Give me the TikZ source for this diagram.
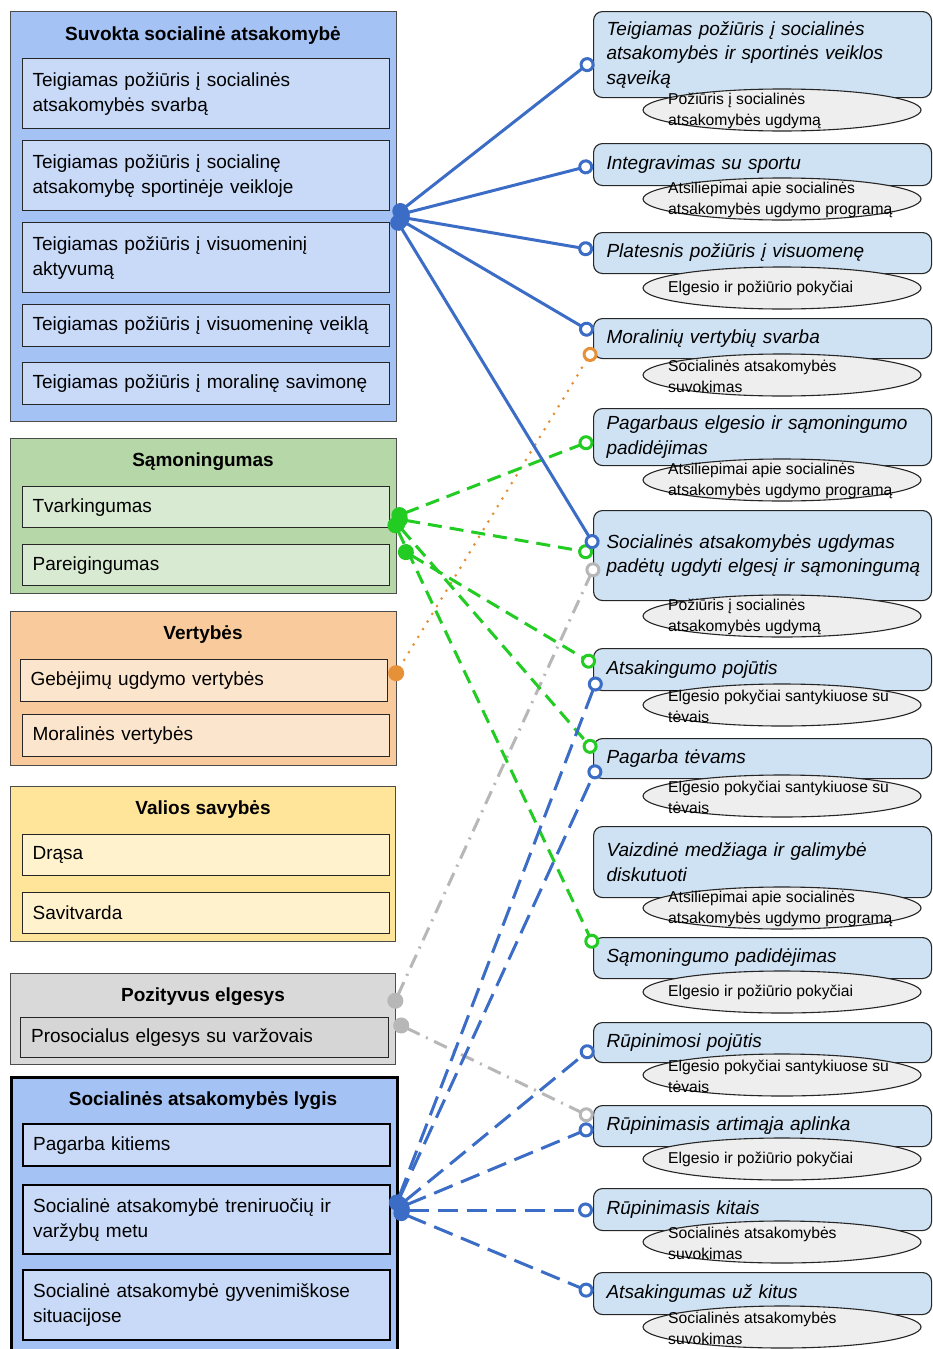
\documentclass[tikz,border=0pt]{standalone}
\usepackage{fontspec}
\setmainfont{Liberation Sans}
\usetikzlibrary{arrows.meta,shapes.geometric}

% group fills
\definecolor{blueOut}{HTML}{A4C2F4}
\definecolor{blueIn}{HTML}{C9DAF8}
\definecolor{greenOut}{HTML}{B6D7A8}
\definecolor{greenIn}{HTML}{D9EAD3}
\definecolor{orangeOut}{HTML}{F9CB9C}
\definecolor{orangeIn}{HTML}{FCE5CD}
\definecolor{yellowOut}{HTML}{FFE599}
\definecolor{yellowIn}{HTML}{FFF2CC}
\definecolor{grayOut}{HTML}{D9D9D9}
\definecolor{grayIn}{HTML}{D6D6D6}
% right column
\definecolor{themeFill}{HTML}{CFE2F3}
\definecolor{ovalFill}{HTML}{EEEEEE}
% connectors
\definecolor{lnBlue}{HTML}{3C6DC6}
\definecolor{lnGreen}{HTML}{22CC22}
\definecolor{lnOrange}{HTML}{E69138}
\definecolor{lnGray}{HTML}{B7B7B7}

\begin{document}
\begin{tikzpicture}[x=1pt,y=-1pt,
  grp/.style={anchor=north west, draw=black!70, line width=1pt, inner sep=0pt, minimum width=386pt},
  ttl/.style={inner sep=0pt, font=\bfseries\fontsize{19}{23}\selectfont},
  itm/.style={anchor=north west, draw=black!85, line width=1.2pt, minimum width=367pt,
    text width=347pt, inner xsep=10pt, inner ysep=0pt, align=left,
    font=\fontsize{19}{25}\selectfont},
  theme/.style={anchor=north west, draw=black!85, line width=1.1pt, rounded corners=9pt,
    fill=themeFill, minimum width=338pt, text width=312pt, inner xsep=13pt, inner ysep=0pt,
    align=left, font=\itshape\fontsize{19}{24.5}\selectfont},
  oval/.style={ellipse, draw=black!85, line width=1.1pt, fill=ovalFill,
    minimum width=278pt, minimum height=42pt, inner sep=0pt},
  ovtext/.style={anchor=west, align=left, inner sep=0pt, font=\fontsize{15.7}{21}\selectfont},
  link/.style={line width=3pt, {Circle[length=16pt]}-{Circle[open,fill=white,length=15pt]}},
  blueSolid/.style={link, draw=lnBlue},
  blueDash/.style={link, draw=lnBlue, dash pattern=on 20pt off 9pt},
  greenDash/.style={link, draw=lnGreen, dash pattern=on 14pt off 8pt},
  orangeDot/.style={link, draw=lnOrange, line cap=round, dash pattern=on 0pt off 9pt},
  grayDashDot/.style={link, draw=lnGray, dash pattern=on 14pt off 7pt on 2pt off 7pt}]

\clip (0,0) rectangle (933,1349);
\fill[white] (0,0) rectangle (933,1349);

% ---------- left column: groups ----------
\node[grp, fill=blueOut, minimum height=410pt] (g1) at (10,11) {};
\node[ttl] (g1t) at (203,36) {Suvokta socialinė atsakomybė};
\node[itm, fill=blueIn, minimum height=70pt] (a1) at (22,58) {Teigiamas požiūris į socialinės\\atsakomybės svarbą};
\node[itm, fill=blueIn, minimum height=70pt] (a2) at (22,140) {Teigiamas požiūris į socialinę\\atsakomybę sportinėje veikloje};
\node[itm, fill=blueIn, minimum height=70pt] (a3) at (22,222) {Teigiamas požiūris į visuomeninį\\aktyvumą};
\node[itm, fill=blueIn, minimum height=42pt] (a4) at (22,304) {Teigiamas požiūris į visuomeninę veiklą};
\node[itm, fill=blueIn, minimum height=42pt] (a5) at (22,362) {Teigiamas požiūris į moralinę savimonę};

\node[grp, fill=greenOut, minimum height=155pt] (g2) at (10,438) {};
\node[ttl] (g2t) at (203,462) {Sąmoningumas};
\node[itm, fill=greenIn, minimum height=41pt] (b1) at (22,486) {Tvarkingumas};
\node[itm, fill=greenIn, minimum height=41pt] (b2) at (22,544) {Pareigingumas};

\node[grp, fill=orangeOut, minimum height=154pt] (g3) at (10,611) {};
\node[ttl] (g3t) at (203,635) {Vertybės};
\node[itm, fill=orangeIn, minimum height=42pt] (c1) at (20,659) {Gebėjimų ugdymo vertybės};
\node[itm, fill=orangeIn, minimum height=42pt] (c2) at (22,714) {Moralinės vertybės};

\node[grp, fill=yellowOut, minimum height=155pt, minimum width=385pt] (g4) at (10,786) {};
\node[ttl] (g4t) at (203,810) {Valios savybės};
\node[itm, fill=yellowIn, minimum height=41pt] (d1) at (22,834) {Drąsa};
\node[itm, fill=yellowIn, minimum height=41pt] (d2) at (22,892) {Savitvarda};

\node[grp, fill=grayOut, minimum height=91pt, minimum width=385pt] (g5) at (10,973) {};
\node[ttl] (g5t) at (203,997) {Pozityvus elgesys};
\node[itm, fill=grayIn, minimum height=40pt, minimum width=368pt] (e1) at (20,1017) {Prosocialus elgesys su varžovais};

\node[grp, fill=blueOut, draw=black, line width=3pt, minimum height=285pt] (g6) at (10,1076) {};
\node[ttl] (g6t) at (203,1101) {Socialinės atsakomybės lygis};
\node[itm, fill=blueIn, draw=black, line width=2.2pt, minimum height=42pt] (f1) at (22,1123) {Pagarba kitiems};
\node[itm, fill=blueIn, draw=black, line width=2.2pt, minimum height=69pt] (f2) at (22,1184) {Socialinė atsakomybė treniruočių ir\\varžybų metu};
\node[itm, fill=blueIn, draw=black, line width=2.2pt, minimum height=70pt] (f3) at (22,1269) {Socialinė atsakomybė gyvenimiškose\\situacijose};

% ---------- right column: themes with their sources ----------
\node[theme, minimum height=86pt] (r1) at (593,11) {Teigiamas požiūris į socialinės\\atsakomybės ir sportinės veiklos\\sąveiką};
\node[oval] (o1) at (782,110) {};
\node[ovtext] (o1t) at (668,111) {Požiūris į socialinės\\atsakomybės ugdymą};

\node[theme, minimum height=42pt] (r2) at (593,143) {Integravimas su sportu};
\node[oval] (o2) at (782,199) {};
\node[ovtext] (o2t) at (668,200) {Atsiliepimai apie socialinės\\atsakomybės ugdymo programą};

\node[theme, minimum height=41pt] (r3) at (593,232) {Platesnis požiūris į visuomenę};
\node[oval] (o3) at (782,288) {};
\node[ovtext] (o3t) at (668,288) {Elgesio ir požiūrio pokyčiai};

\node[theme, minimum height=40pt] (r4) at (593,318) {Moralinių vertybių svarba};
\node[oval] (o4) at (782,375) {};
\node[ovtext] (o4t) at (668,376) {Socialinės atsakomybės\\suvokimas};

\node[theme, minimum height=57pt] (r5) at (593,408) {Pagarbaus elgesio ir sąmoningumo\\padidėjimas};
\node[oval] (o5) at (782,480) {};
\node[ovtext] (o5t) at (668,481) {Atsiliepimai apie socialinės\\atsakomybės ugdymo programą};

\node[theme, minimum height=90pt] (r6) at (593,510) {Socialinės atsakomybės ugdymas\\\mbox{padėtų ugdyti elgesį ir sąmoningumą}};
\node[oval] (o6) at (782,616) {};
\node[ovtext] (o6t) at (668,617) {Požiūris į socialinės\\atsakomybės ugdymą};

\node[theme, minimum height=42pt] (r7) at (593,648) {Atsakingumo pojūtis};
\node[oval] (o7) at (782,705) {};
\node[ovtext] (o7t) at (668,706) {Elgesio pokyčiai santykiuose su\\tėvais};

\node[theme, minimum height=40pt] (r8) at (593,738) {Pagarba tėvams};
\node[oval] (o8) at (782,796) {};
\node[ovtext] (o8t) at (668,797) {Elgesio pokyčiai santykiuose su\\tėvais};

\node[theme, minimum height=71pt] (r9) at (593,826) {Vaizdinė medžiaga ir galimybė\\diskutuoti};
\node[oval] (o9) at (782,908) {};
\node[ovtext] (o9t) at (668,909) {Atsiliepimai apie socialinės\\atsakomybės ugdymo programą};

\node[theme, minimum height=41pt] (r10) at (593,937) {Sąmoningumo padidėjimas};
\node[oval] (o10) at (782,992) {};
\node[ovtext] (o10t) at (668,992) {Elgesio ir požiūrio pokyčiai};

\node[theme, minimum height=40pt] (r11) at (593,1022) {Rūpinimosi pojūtis};
\node[oval] (o11) at (782,1075) {};
\node[ovtext] (o11t) at (668,1076) {Elgesio pokyčiai santykiuose su\\tėvais};

\node[theme, minimum height=41pt] (r12) at (593,1105) {Rūpinimasis artimąja aplinka};
\node[oval] (o12) at (782,1159) {};
\node[ovtext] (o12t) at (668,1159) {Elgesio ir požiūrio pokyčiai};

\node[theme, minimum height=42pt] (r13) at (593,1188) {Rūpinimasis kitais};
\node[oval] (o13) at (782,1242) {};
\node[ovtext] (o13t) at (668,1243) {Socialinės atsakomybės\\suvokimas};

\node[theme, minimum height=42pt] (r14) at (593,1272) {Atsakingumas už kitus};
\node[oval] (o14) at (782,1327) {};
\node[ovtext] (o14t) at (668,1328) {Socialinės atsakomybės\\suvokimas};

% ---------- connector ends ----------
\coordinate (hubS) at (394,216);
\coordinate (hubG1) at (392,518);
\coordinate (hubG2) at (399,548);
\coordinate (hubO) at (392,680);
\coordinate (hubY1) at (392,1008);
\coordinate (hubY2) at (394,1022);
\coordinate (hubB) at (394,1210);

\coordinate (r1in) at (593,60);
\coordinate (r2in) at (593,165);
\coordinate (r3in) at (593,250);
\coordinate (r4in) at (593,333);
\coordinate (r4inO) at (594,348);
\coordinate (r5in) at (593,440);
\coordinate (r6in) at (596,548);
\coordinate (r6inG) at (593,553);
\coordinate (r6inY) at (596,563);
\coordinate (r7inG) at (595,665);
\coordinate (r7inB) at (598,677);
\coordinate (r8inG) at (595,752);
\coordinate (r8inB) at (598,765);
\coordinate (r10in) at (595,948);
\coordinate (r11in) at (593,1047);
\coordinate (r12inY) at (593,1118);
\coordinate (r12in) at (593,1127);
\coordinate (r13in) at (593,1210);
\coordinate (r14in) at (593,1293);

% ---------- connectors ----------
\draw[orangeDot] (hubO) -- (r4inO);
\draw[grayDashDot] (hubY1) -- (r6inY);
\draw[grayDashDot] (hubY2) -- (r12inY);

\draw[greenDash] (hubG1) -- (r5in);
\draw[greenDash] (hubG1) -- (r6inG);
\draw[greenDash] (hubG2) -- (r7inG);
\draw[greenDash] (hubG1) -- (r8inG);
\draw[greenDash] (hubG1) -- (r10in);

\draw[blueSolid] (hubS) -- (r1in);
\draw[blueSolid] (hubS) -- (r2in);
\draw[blueSolid] (hubS) -- (r3in);
\draw[blueSolid] (hubS) -- (r4in);
\draw[blueSolid] (hubS) -- (r6in);

\draw[blueDash] (hubB) -- (r7inB);
\draw[blueDash] (hubB) -- (r8inB);
\draw[blueDash] (hubB) -- (r11in);
\draw[blueDash] (hubB) -- (r12in);
\draw[blueDash] (hubB) -- (r13in);
\draw[blueDash] (hubB) -- (r14in);
\end{tikzpicture}
\end{document}
